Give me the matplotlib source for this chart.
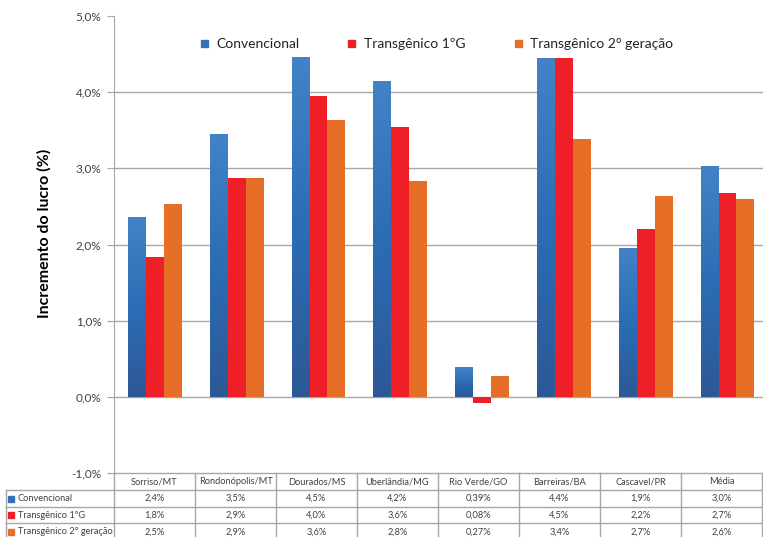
import numpy as np
import matplotlib
matplotlib.use("Agg")
import matplotlib.pyplot as plt
from matplotlib.patches import Rectangle
from matplotlib.colors import LinearSegmentedColormap

plt.rcParams['font.family'] = ['Lato', 'DejaVu Sans']

# dados: incremento do lucro (%) por local
locais = ['Sorriso/MT', 'Rondonópolis/MT', 'Dourados/MS', 'Uberlândia/MG',
          'Rio Verde/GO', 'Barreiras/BA', 'Cascavel/PR', 'Média']
series = ['Convencional', 'Transgênico 1ºG', 'Transgênico 2° geração']
convencional = [2.36, 3.45, 4.46, 4.15, 0.39, 4.45, 1.95, 3.03]
transg_1g = [1.84, 2.87, 3.95, 3.54, -0.08, 4.45, 2.20, 2.68]
transg_2g = [2.53, 2.87, 3.64, 2.83, 0.27, 3.39, 2.64, 2.60]

# textos da tabela de dados
tab_conv = ['2,4%', '3,5%', '4,5%', '4,2%', '0,39%', '4,4%', '1,9%', '3,0%']
tab_1g = ['1,8%', '2,9%', '4,0%', '3,6%', '0,08%', '4,5%', '2,2%', '2,7%']
tab_2g = ['2,5%', '2,9%', '3,6%', '2,8%', '0,27%', '3,4%', '2,7%', '2,6%']

azul = '#3272BC'
vermelho = '#EE1F26'
laranja = '#E66E26'
cinza = '#A6A6A6'
texto = '#404040'

W, H = 763, 537
fig = plt.figure(figsize=(W / 100, H / 100), dpi=100)

ax = fig.add_axes([114 / W, 1 - 473 / H, 8 * 81.8 / W, (473 - 16) / H])
ax.set_xlim(-0.5, 7.5)
ax.set_ylim(-1, 5)

x = np.arange(len(locais))
bw = 0.22

for v in range(0, 5):
    ax.axhline(v, color=cinza, lw=1, zorder=1)

# barras azuis com degrade vertical
cmap_azul = LinearSegmentedColormap.from_list('azul', ['#2D5896', '#2B6DB5', '#4382C6'])
grad = np.linspace(0, 1, 256).reshape(-1, 1)
b_conv = ax.bar(x - bw, convencional, bw, color=azul, zorder=2)
for b in b_conv:
    x0, h = b.get_x(), b.get_height()
    im = ax.imshow(grad, extent=[x0, x0 + bw, 0, h], origin='lower',
                   aspect='auto', cmap=cmap_azul, zorder=2.1)
    im.set_clip_path(b)
ax.bar(x, transg_1g, bw, color=vermelho, zorder=2)
ax.bar(x + bw, transg_2g, bw, color=laranja, zorder=2)
ax.set_xlim(-0.5, 7.5)
ax.set_ylim(-1, 5)

for s in ['top', 'right', 'bottom']:
    ax.spines[s].set_visible(False)
ax.spines['left'].set_color(cinza)
ax.set_xticks([])
ax.set_yticks(range(-1, 6))
ax.set_yticklabels([f'{v:.1f}%'.replace('.', ',') for v in range(-1, 6)])
ax.tick_params(axis='y', length=5, color=cinza, labelsize=8.5, labelcolor=texto, pad=4)

fig.text(44 / W, 1 - 233 / H, 'Incremento do lucro (%)', fontsize=11.5, fontweight='bold',
         rotation=90, ha='center', va='center')

# legenda no topo
for cx, tx, cor, nome in [(201, 216, azul, series[0]), (348, 364, vermelho, series[1]),
                          (515, 530, laranja, series[2])]:
    fig.patches.append(Rectangle((cx / W, 1 - 47 / H), 7 / W, 7 / H, color=cor,
                                 transform=fig.transFigure, figure=fig))
    fig.text(tx / W, 1 - 43.5 / H, nome, fontsize=10, va='center', ha='left', color='#222222')

# tabela de dados em coordenadas de pixel
tax = fig.add_axes([0, 0, 1, 1])
tax.set_xlim(0, W)
tax.set_ylim(H, 0)
tax.axis('off')

cols = np.linspace(114, 762, 9)
rows = [473, 490, 507, 523, 541]
lk = dict(color=cinza, lw=1)
tax.plot([114, 762], [473, 473], **lk)
for yy in rows[1:]:
    tax.plot([5.5, 762], [yy, yy], **lk)
for xx in cols:
    tax.plot([xx, xx], [473, 541], **lk)
tax.plot([5.5, 5.5], [490, 541], **lk)

for i, loc in enumerate(locais):
    cx = (cols[i] + cols[i + 1]) / 2
    tax.text(cx, 482, loc, fontsize=6.7, ha='center', va='center', color=texto)
    for r, vals in enumerate([tab_conv, tab_1g, tab_2g]):
        yc = (rows[r + 1] + rows[r + 2]) / 2
        tax.text(cx, yc, vals[i], fontsize=6.7, ha='center', va='center', color=texto)

for r, (nome, cor) in enumerate(zip(series, [azul, vermelho, laranja])):
    yc = (rows[r + 1] + rows[r + 2]) / 2
    tax.add_patch(Rectangle((8, yc - 3), 6, 6, color=cor))
    tax.text(18, yc, nome, fontsize=6.7, ha='left', va='center', color=texto)

fig.savefig('out.png', dpi=100)
